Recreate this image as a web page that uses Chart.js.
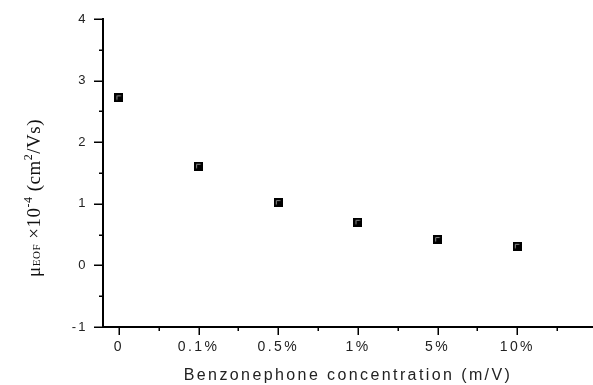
<!DOCTYPE html>
<html>
<head>
<meta charset="utf-8">
<script src="https://cdn.jsdelivr.net/npm/chart.js@4.4.1/dist/chart.umd.min.js"></script>
<style>
html,body{margin:0;padding:0;background:#fff;}
canvas{display:block;}
</style>
</head>
<body>
<canvas id="c" width="593" height="385"></canvas>
<script>
// ---- data ----
const categories = ["0", "0.1%", "0.5%", "1%", "5%", "10%"];
const mobility = [2.72, 1.61, 1.02, 0.70, 0.42, 0.31];
const yTicks = [-1, 0, 1, 2, 3, 4];
const xTitle = "Benzonephone concentration (m/V)";

// ---- marker image ----
function makeMarker() {
  const c = document.createElement('canvas');
  c.width = 9; c.height = 9;
  const g = c.getContext('2d');
  g.fillStyle = '#000';
  g.fillRect(0, 0, 9, 9);
  g.strokeStyle = '#8a8a8a';
  g.lineWidth = 1;
  g.beginPath();
  g.moveTo(2.5, 6.5); g.lineTo(2.5, 2.5); g.lineTo(6.5, 2.5);
  g.stroke();
  return c;
}
const marker = makeMarker();

const points = categories.map((c, i) => ({x: i, y: mobility[i]}));

const axisPlugin = {
  id: 'axisPlugin',
  beforeDraw(chart) {
    chart.ctx.letterSpacing = '2.4px';
  },
  afterDraw(chart) {
    const ctx = chart.ctx;
    ctx.save();
    ctx.letterSpacing = '0px';
    const xs = chart.scales.x, ys = chart.scales.y;
    const area = chart.chartArea;
    ctx.strokeStyle = '#000';
    ctx.lineWidth = 1.5;
    ctx.beginPath();
    for (let v = -1; v <= 4.001; v += 0.5) {
      const p = Math.round(ys.getPixelForValue(v)) + 0.25;
      const major = Math.abs(v - Math.round(v)) < 1e-6;
      ctx.moveTo(area.left, p);
      ctx.lineTo(area.left - (major ? 9 : 4), p);
    }
    for (let v = 0; v <= 5.501; v += 0.5) {
      const p = Math.round(xs.getPixelForValue(v)) + 0.25;
      const major = Math.abs(v - Math.round(v)) < 1e-6;
      ctx.moveTo(p, area.bottom);
      ctx.lineTo(p, area.bottom + (major ? 8 : 4));
    }
    ctx.stroke();

    // y title (rotated, with sub/superscripts)
    ctx.fillStyle = '#111';
    ctx.translate(40, 198);
    ctx.rotate(-Math.PI / 2);
    const parts = [
      {t: 'μ', f: '19px "Liberation Serif"', dy: 0},
      {t: 'EOF', f: '11px "Liberation Serif"', dy: 0},
      {t: ' ×10', f: '19px "Liberation Serif"', dy: 0},
      {t: '-4', f: '12px "Liberation Serif"', dy: -8},
      {t: ' (cm', f: '19px "Liberation Serif"', dy: 0},
      {t: '2', f: '12px "Liberation Serif"', dy: -8},
      {t: '/Vs)', f: '19px "Liberation Serif"', dy: 0}
    ];
    ctx.letterSpacing = '0.5px';
    let total = 0;
    parts.forEach(p => { ctx.font = p.f; p.w = ctx.measureText(p.t).width; total += p.w; });
    let x = -total / 2;
    ctx.textBaseline = 'alphabetic';
    ctx.textAlign = 'left';
    parts.forEach(p => { ctx.font = p.f; ctx.fillText(p.t, x, p.dy); x += p.w; });
    ctx.restore();
  }
};

new Chart(document.getElementById('c'), {
  type: 'scatter',
  data: {
    datasets: [{
      data: points,
      pointStyle: marker,
      pointRadius: 5,
      showLine: false,
      clip: false
    }]
  },
  options: {
    responsive: false,
    animation: false,
    events: [],
    layout: {autoPadding: false, padding: {top: 19, right: 0, left: 0, bottom: 0}},
    plugins: {legend: {display: false}, tooltip: {enabled: false}},
    scales: {
      x: {
        type: 'linear',
        min: -0.2,
        max: 5.95,
        grid: {display: false, drawTicks: false},
        border: {display: true, color: '#000', width: 2},
        afterBuildTicks: s => { s.ticks = categories.map((c, i) => ({value: i})); },
        afterFit: s => { s.height = 58; s.paddingLeft = 0; s.paddingRight = 0; },
        ticks: {
          color: '#222',
          padding: 12,
          maxRotation: 0,
          autoSkip: false,
          font: {family: '"Liberation Sans", Arial, sans-serif', size: 14},
          callback: v => categories[v]
        },
        title: {
          display: true,
          text: xTitle,
          color: '#222',
          padding: {top: 4, bottom: 0},
          font: {family: '"Liberation Sans", Arial, sans-serif', size: 16}
        }
      },
      y: {
        min: -1,
        max: 4,
        grid: {display: false, drawTicks: false},
        border: {display: true, color: '#000', width: 2},
        afterBuildTicks: s => { s.ticks = yTicks.map(v => ({value: v})); },
        afterFit: s => { s.width = 103; s.paddingTop = 0; s.paddingBottom = 0; },
        ticks: {
          color: '#222',
          padding: 15,
          font: {family: '"Liberation Sans", Arial, sans-serif', size: 13}
        }
      }
    }
  },
  plugins: [axisPlugin]
});
</script>
</body>
</html>
